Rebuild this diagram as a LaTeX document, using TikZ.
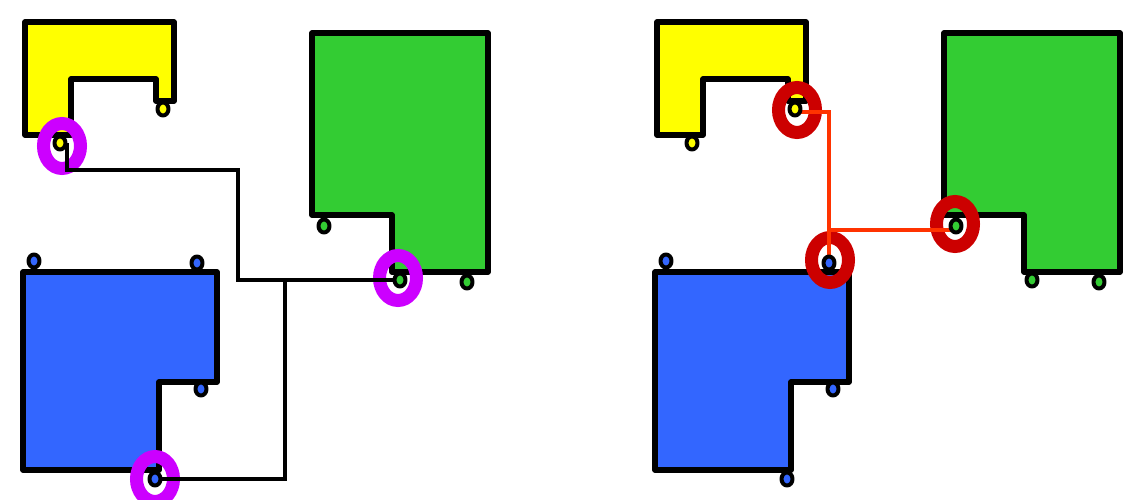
\documentclass[tikz,border=0pt]{standalone}
\usepackage{tikz}
\usetikzlibrary{shapes.geometric}

\definecolor{partyellow}{HTML}{FFFF00}
\definecolor{partgreen}{HTML}{33CC33}
\definecolor{partblue}{HTML}{3366FF}
\definecolor{ringmagenta}{HTML}{CC00FF}
\definecolor{ringred}{HTML}{CC0000}
\definecolor{wireorange}{HTML}{FF3300}

\pgfdeclarelayer{back}
\pgfdeclarelayer{mid}
\pgfsetlayers{back,mid,main}

\tikzset{
  part/.style={draw=black, line width=5.5pt, line join=round},
  pin/.style={ellipse, draw=black, line width=4pt, line join=round,
              minimum width=11pt, minimum height=13pt, inner sep=0pt},
  hl/.style={ellipse, draw=#1, line width=13pt, minimum width=37pt,
             minimum height=45pt, inner sep=0pt},
  wire/.style={line width=4pt}
}

\begin{document}
\begin{tikzpicture}[x=1pt,y=-1pt]
\useasboundingbox (0,0) rectangle (1140,500);

% the three parts, once per panel
\begin{pgfonlayer}{back}
\foreach \dx in {0pt,632pt} {
 \begin{scope}[xshift=\dx]
  \draw[part, fill=partyellow] (25,22) -- (174,22) -- (174,101) -- (156,101)
    -- (156,79) -- (71,79) -- (71,135) -- (25,135) -- cycle;
  \draw[part, fill=partgreen] (312,33) -- (488,33) -- (488,272) -- (392,272)
    -- (392,215) -- (312,215) -- cycle;
  \draw[part, fill=partblue] (23,272) -- (217,272) -- (217,382) -- (159,382)
    -- (159,470) -- (23,470) -- cycle;
 \end{scope}
}
\end{pgfonlayer}

% pins
\foreach \p/\dx in {L/0pt,R/632pt} {
 \begin{scope}[xshift=\dx]
  \begin{scope}[every node/.style={pin, fill=partyellow}]
   \node (yA-\p) at (60,143) {};
   \node (yB-\p) at (163,109) {};
  \end{scope}
  \begin{scope}[every node/.style={pin, fill=partgreen}]
   \node (gA-\p) at (324,226) {};
   \node (gB-\p) at (400,280) {};
   \node (gC-\p) at (467,282) {};
  \end{scope}
  \begin{scope}[every node/.style={pin, fill=partblue}]
   \node (bA-\p) at (34,261) {};
   \node (bB-\p) at (197,263) {};
   \node (bC-\p) at (201,389) {};
   \node (bD-\p) at (155,479) {};
  \end{scope}
 \end{scope}
}

\begin{pgfonlayer}{mid}
 % selected pins
 \node[hl=ringmagenta] (rYL) at ([shift={(2,3)}]yA-L.center) {};
 \node[hl=ringmagenta] (rGL) at ([shift={(-2,-2)}]gB-L.center) {};
 \node[hl=ringmagenta] (rBL) at (bD-L.center) {};
 \node[hl=ringred] (rYR) at ([shift={(2,1)}]yB-R.center) {};
 \node[hl=ringred] (rBR) at ([shift={(1,-3)}]bB-R.center) {};
 \node[hl=ringred] (rGR) at ([shift={(-1,-2)}]gA-R.center) {};

 % left routing
 \coordinate (bendL) at (238,170);
 \coordinate (joinL) at (285,279);
 \draw[wire] ([xshift=7pt]yA-L.center) |- (bendL) |- (gB-L.center);
 \draw[wire] (joinL) |- (bD-L.center);

 % right routing
 \coordinate (joinR) at (829,230);
 \draw[wire, wireorange] ([yshift=-3pt]yB-R.center) -| (bB-R.center);
 \draw[wire, wireorange] (joinR) -- (joinR -| gA-R.center);
\end{pgfonlayer}
\end{tikzpicture}
\end{document}
